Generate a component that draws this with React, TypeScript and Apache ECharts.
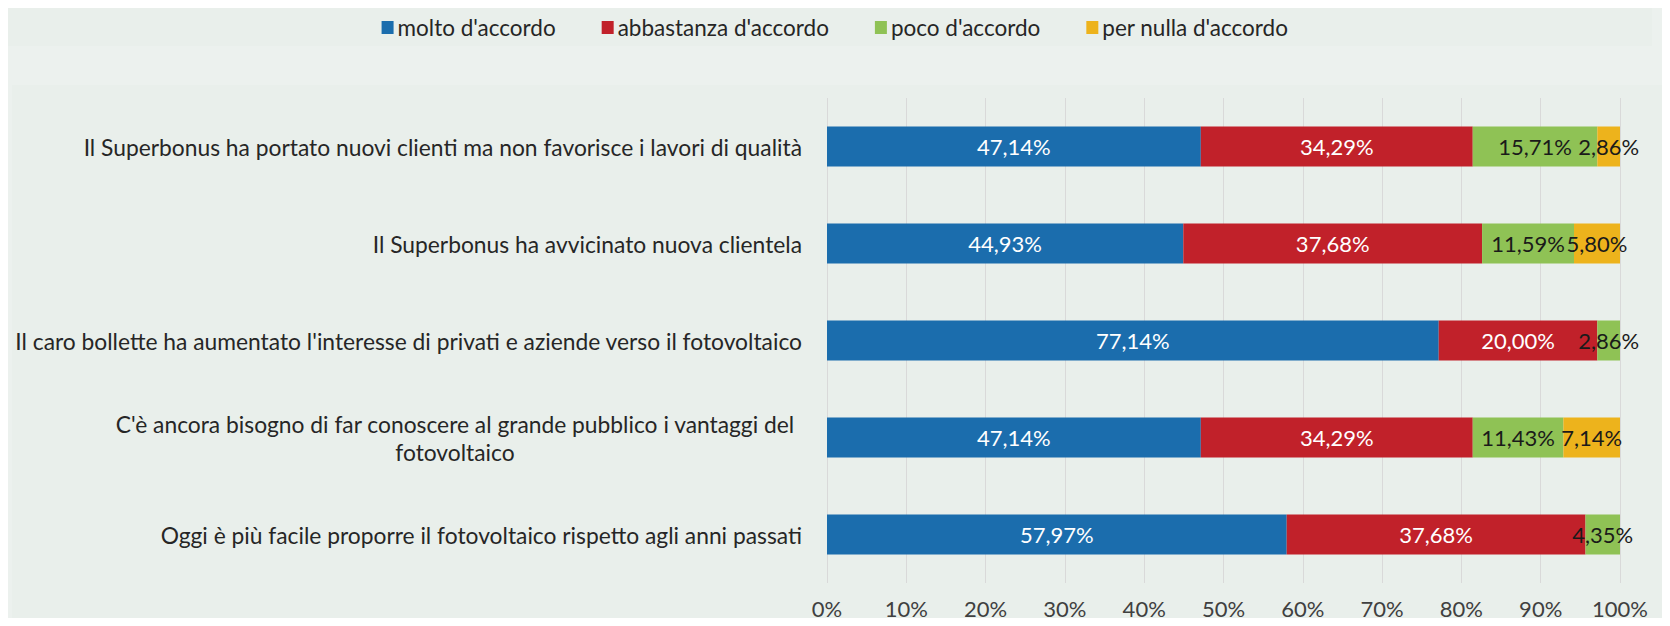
import React, { useEffect, useRef } from "react";
import * as echarts from "echarts";

const categories = [
  "Il Superbonus ha portato nuovi clienti ma non favorisce i lavori di qualità",
  "Il Superbonus ha avvicinato nuova clientela",
  "Il caro bollette ha aumentato l'interesse di privati e aziende verso il fotovoltaico",
  "C'è ancora bisogno di far conoscere al grande pubblico i vantaggi del fotovoltaico",
  "Oggi è più facile proporre il fotovoltaico rispetto agli anni passati",
];
const seriesNames = ["molto d'accordo", "abbastanza d'accordo", "poco d'accordo", "per nulla d'accordo"];
const molto = [47.14, 44.93, 77.14, 47.14, 57.97];
const abbastanza = [34.29, 37.68, 20.0, 34.29, 37.68];
const poco = [15.71, 11.59, 2.86, 11.43, 4.35];
const perNulla = [2.86, 5.8, 0, 7.14, 0];
const xTicks = [0, 10, 20, 30, 40, 50, 60, 70, 80, 90, 100];

const colors = ["#1B6DAD", "#C1212A", "#8FC255", "#EDB31C"];
const labelColors = ["#FFFFFF", "#FFFFFF", "#1A1A1A", "#1A1A1A"];
const FONT = "Lato";

export default function App() {
  const ref = useRef<HTMLDivElement>(null);
  useEffect(() => {
    if (!ref.current) return;
    const chart = echarts.init(ref.current, null, { renderer: "svg" });
    const values = [molto, abbastanza, poco, perNulla];
    const series = seriesNames.map((name, si) => ({
      name,
      type: "bar",
      stack: "total",
      barWidth: 40,
      data: values[si],
      itemStyle: { color: colors[si] },
      label: {
        show: true,
        position: "inside",
        color: labelColors[si],
        fontFamily: FONT,
        fontSize: 22,
        formatter: (p: any) => (p.value > 0 ? p.value.toFixed(2).replace(".", ",") + "%" : ""),
      },
    }));
    chart.setOption({
      animation: false,
      backgroundColor: "#ECF1EE",
      textStyle: { fontFamily: FONT },
      graphic: [
        { type: "rect", z: -10, shape: { x: 3, y: 8, width: 1649, height: 38 }, style: { fill: "#E9EFEB" } },
        { type: "rect", z: -10, shape: { x: 12, y: 85, width: 1654, height: 541 }, style: { fill: "#E9EFEB" } },
        { type: "line", z: -9, shape: { x1: 1666, y1: 86, x2: 1666, y2: 626 }, style: { stroke: "#D6D9D7", lineWidth: 1 } },
      ],
      legend: {
        top: 11,
        left: "center",
        icon: "rect",
        itemWidth: 12,
        itemHeight: 13,
        itemGap: 46,
        textStyle: { fontFamily: FONT, fontSize: 22.5, color: "#262626", padding: [0, 0, 0, -1] },
        data: seriesNames,
      },
      grid: { left: 827, right: 50, top: 98, bottom: 43 },
      xAxis: {
        type: "value",
        min: 0,
        max: 100,
        interval: 10,
        axisLine: { show: false },
        axisTick: { show: false },
        axisLabel: {
          margin: 14,
          fontFamily: FONT,
          fontSize: 22,
          color: "#404040",
          formatter: (v: number) => (xTicks.includes(v) ? v + "%" : ""),
        },
        splitLine: { show: true, lineStyle: { color: "#D9D9D9", width: 1 } },
      },
      yAxis: {
        type: "category",
        inverse: true,
        data: categories,
        axisLine: { show: false },
        axisTick: { show: false },
        axisLabel: {
          margin: 25,
          fontFamily: FONT,
          fontSize: 22.8,
          color: "#262626",
          formatter: (v: string, i: number) => {
            if (i === 3) {
              return "{c|C'è ancora bisogno di far conoscere al grande pubblico i vantaggi del}\n{c|fotovoltaico}";
            }
            return v;
          },
          rich: {
            c: { width: 694, align: "center", fontFamily: FONT, fontSize: 22.8, color: "#262626", lineHeight: 28 },
          },
        },
      },
      series,
    });
    return () => chart.dispose();
  }, []);
  return <div ref={ref} style={{ width: 1670, height: 626, margin: -8 }} />;
}
